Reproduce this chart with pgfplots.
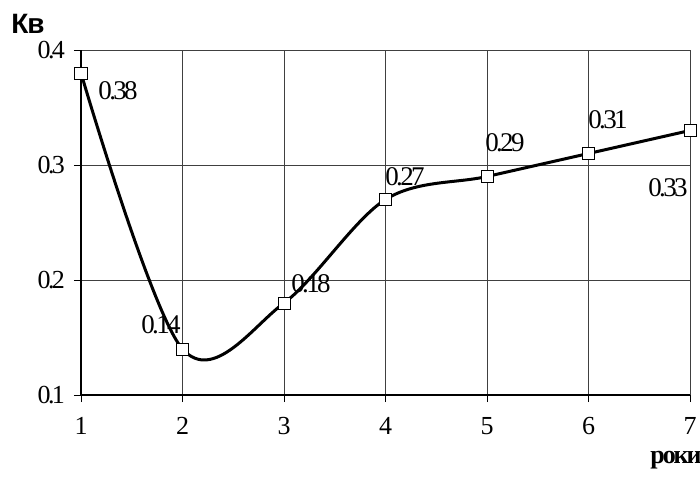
\documentclass[border=0pt]{standalone}
\usepackage{fontspec}
\setmainfont{Liberation Serif}
\newfontfamily\sansb{Liberation Sans}
\usepackage{pgfplots}
\pgfplotsset{compat=1.18}
\begin{document}
\begin{tikzpicture}
\useasboundingbox (-40.5bp,-43.5bp) rectangle (309.5bp,197.5bp);
\begin{axis}[
  at={(0,0)}, anchor=south west,
  scale only axis,
  width=304.5bp, height=172.5bp,
  xmin=1, xmax=7, ymin=0.1, ymax=0.4,
  xtick={1,2,3,4,5,6,7},
  ytick={0.1,0.2,0.3,0.4},
  yticklabels={0.1,0.2,0.3,0.4},
  axis lines=left,
  axis line style={-, black, line width=0.6bp},
  tick style={black, line width=0.5bp},
  tick align=outside,
  major tick length=3.5bp,
  grid=major,
  major grid style={black!75, line width=0.5bp},
  ticklabel style={font=\fontsize{13bp}{15bp}\selectfont\addfontfeature{LetterSpace=-10}},
  /pgf/number format/assume math mode=true,
  xticklabel style={yshift=-4bp},
  yticklabel style={xshift=-1bp},
  clip=false,
]
\addplot[black, line width=1.5bp, smooth, tension=0.55,
  mark=square*, mark size=3bp,
  mark options={fill=white, draw=black, line width=0.5bp}]
  coordinates {(1,0.38) (2,0.14) (3,0.18) (4,0.27) (5,0.29) (6,0.31) (7,0.33)};
\begin{scope}[every node/.style={font=\fontsize{13.5bp}{15bp}\selectfont\addfontfeature{LetterSpace=-10}, inner sep=0pt}]
\node at (axis cs:1.365,0.365) {0.38};
\node at (axis cs:1.788,0.161) {0.14};
\node at (axis cs:3.266,0.197) {0.18};
\node at (axis cs:4.192,0.290) {0.27};
\node at (axis cs:5.177,0.319) {0.29};
\node at (axis cs:6.192,0.339) {0.31};
\node at (axis cs:6.783,0.280) {0.33};
\end{scope}
\node[font=\sansb\bfseries\fontsize{14bp}{16bp}\selectfont\addfontfeature{LetterSpace=-4}, inner sep=0pt] at (rel axis cs:-0.087,1.075) {Кв};
\node[font=\bfseries\fontsize{13bp}{15bp}\selectfont\addfontfeature{LetterSpace=-8}, inner sep=0pt] at (rel axis cs:0.977,-0.188) {роки};
\end{axis}
\end{tikzpicture}
\end{document}
